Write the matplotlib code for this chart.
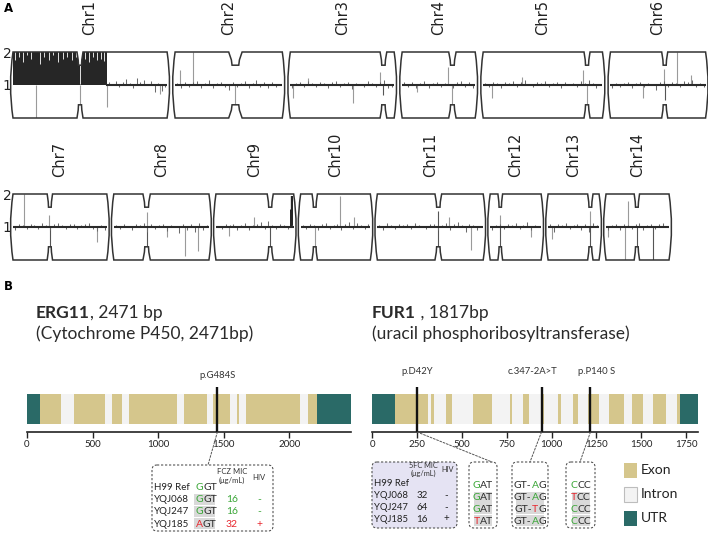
import numpy as np
import matplotlib
matplotlib.use('Agg')
import matplotlib.pyplot as plt
from matplotlib.path import Path
from matplotlib.patches import PathPatch, Rectangle, FancyBboxPatch, ConnectionPatch
from matplotlib.transforms import offset_copy

# ---------------------------------------------------------------- data (panel A)
chrom_names = ['Chr%d' % i for i in range(1, 15)]
chrom_len_mb = [2.30, 1.60, 1.55, 1.09, 1.78, 1.42, 1.40, 1.42, 1.16, 1.04, 1.58, 0.76, 0.76, 0.94]
centromere_mb = [1.00, 0.90, 1.39, 0.75, 1.55, 0.81, 0.55, 0.49, 0.81, 0.21, 0.91, 0.15, 0.63, 0.46]
centromere_w_mb = [0.09, 0.20, 0.10, 0.11, 0.09, 0.09, 0.08, 0.11, 0.09, 0.08, 0.10, 0.07, 0.08, 0.08]
chrom_row = [0, 0, 0, 0, 0, 0, 1, 1, 1, 1, 1, 1, 1, 1]

# start of the ~1 copy noise trace (Chr1 left arm is disomic = amplified)
noise_start_mb = [1.40, 0, 0, 0, 0, 0, 0, 0, 0, 0, 0, 0, 0, 0]
noise = [
    [1.08, 1.04, 1.12, 0.94, 1.10, 1.18, 1.05, 0.92, 1.22, 1.08, 1.15, 1.03, 1.12, 0.78, 1.06, 0.82, 0.95],
    [1.06, 0.90, 1.10, 0.95, 1.08, 1.12, 0.92, 1.06, 1.14, 0.90, 1.05, 1.08, 0.93, 0.85, 1.10, 0.95, 1.07,
     1.12, 0.92, 1.06, 1.15, 0.95, 1.08, 0.90, 1.10, 0.93, 1.04],
    [0.92, 1.05, 1.08, 0.93, 1.12, 1.05, 0.95, 1.10, 1.06, 0.90, 1.08, 1.12, 0.94, 1.05, 1.10, 0.88, 1.07,
     1.04, 0.93, 1.12, 1.06, 0.95, 1.10, 1.15, 0.90, 0.93],
    [1.08, 0.95, 1.10, 0.92, 1.05, 1.12, 0.90, 1.06, 1.10, 0.94, 1.07, 1.03, 0.92, 1.08, 1.12, 0.95, 1.10, 0.90],
    [1.05, 0.93, 1.08, 1.06, 0.90, 1.10, 1.05, 1.12, 0.95, 1.08, 1.15, 1.04, 0.93, 1.10, 1.06, 1.12, 0.95,
     1.05, 1.08, 0.92, 1.10, 1.04, 1.07, 0.95, 1.12, 1.06, 1.15, 1.05, 0.92, 1.04],
    [0.92, 1.05, 0.95, 1.06, 1.08, 0.90, 1.05, 1.10, 0.93, 1.06, 1.04, 0.85, 1.08, 1.12, 0.95, 1.10, 1.06,
     0.93, 1.12, 1.08, 1.15, 0.95, 1.05, 0.94],
    [0.92, 1.10, 1.05, 0.94, 1.08, 1.06, 0.93, 1.12, 1.05, 0.90, 1.10, 1.12, 1.06, 0.95, 1.10, 1.08, 0.93,
     1.05, 1.10, 1.12, 0.95, 0.88, 1.06, 0.92],
    [1.06, 0.94, 1.08, 1.04, 0.92, 1.10, 1.06, 1.12, 0.85, 1.08, 0.93, 1.05, 1.10, 0.88, 1.06, 1.04, 0.82,
     1.10, 0.90, 1.08, 0.85, 1.12, 0.92, 1.06],
    [1.04, 0.93, 1.08, 1.05, 1.10, 0.92, 1.06, 1.12, 0.90, 1.05, 1.08, 1.14, 0.93, 1.18, 1.06, 0.95, 1.10,
     1.05, 0.94, 1.06],
    [1.06, 0.93, 1.10, 1.05, 0.92, 1.08, 1.12, 0.94, 1.06, 1.10, 0.90, 1.08, 1.15, 0.93, 1.12, 1.06, 0.95, 1.08],
    [1.05, 0.90, 1.12, 1.06, 0.94, 1.10, 1.05, 1.08, 0.93, 1.12, 1.06, 1.04, 0.95, 1.10, 1.08, 0.92, 1.05,
     1.12, 0.90, 1.10, 1.15, 1.06, 0.85, 1.08, 1.05, 0.92, 1.04],
    [0.90, 1.05, 1.08, 0.95, 1.10, 1.06, 1.12, 0.93, 1.05, 1.14, 0.92, 1.06, 1.04],
    [1.10, 0.85, 1.08, 1.05, 1.12, 0.93, 1.06, 1.10, 0.92, 1.08, 0.85, 1.12, 1.05],
    [0.90, 1.05, 1.08, 0.92, 1.10, 1.06, 0.94, 1.08, 1.12, 0.90, 1.06, 1.10, 0.93, 1.08, 1.12, 1.04],
]
# large single-bin spikes: (position Mb, copy value, shade)
spikes = [
    [(0.34, 0.0, 'l'), (1.00, 0.0, 'l'), (1.40, 0.33, 'l'), (2.20, 0.72, 'l')],
    [(0.07, 1.45, 'l'), (0.27, 2.0, 'l'), (0.90, 0.0, 'l')],
    [(0.04, 0.60, 'l'), (0.27, 1.20, 'l'), (0.94, 0.45, 'l'), (1.34, 1.40, 'l'), (1.39, 0.70, 'd')],
    [(0.22, 0.78, 'l'), (0.69, 1.55, 'l'), (0.75, 0.0, 'l')],
    [(0.13, 0.60, 'l'), (0.58, 1.25, 'l'), (1.49, 1.45, 'l'), (1.55, 0.0, 'l')],
    [(0.49, 0.60, 'l'), (0.80, 1.50, 'l'), (0.81, 0.55, 'd'), (0.99, 2.0, 'l'), (1.20, 1.30, 'l')],
    [(0.17, 2.0, 'l'), (0.53, 1.35, 'l'), (0.55, 0.0, 'd'), (1.26, 0.55, 'l')],
    [(0.49, 0.30, 'd'), (0.50, 1.45, 'l'), (0.80, 0.70, 'l'), (1.06, 0.12, 'l'), (1.25, 0.28, 'l')],
    [(0.20, 0.72, 'l'), (0.57, 1.30, 'l'), (0.81, 0.0, 'd')],
    [(0.21, 0.0, 'l'), (0.58, 1.95, 'l'), (0.80, 1.30, 'l')],
    [(0.90, 1.50, 'd'), (0.91, 0.35, 'd'), (1.07, 1.30, 'l'), (1.40, 0.30, 'l')],
    [(0.15, 0.40, 'd'), (0.15, 1.35, 'l'), (0.61, 0.70, 'l')],
    [(0.06, 0.65, 'l'), (0.62, 1.50, 'l'), (0.63, 0.10, 'd')],
    [(0.03, 0.70, 'l'), (0.28, 0.0, 'l'), (0.33, 1.80, 'l'), (0.46, 0.0, 'd'), (0.70, 0.0, 'd')],
]
# amplified segments: chromosome index -> (start Mb, end Mb, copy value)
amplified = {0: (0.0, 1.40, 2.0), 8: (1.10, 1.155, 1.95)}
# white dips inside the amplified segments: (position Mb, value reached)
amp_dips = {0: [(0.03, 1.75), (0.09, 1.85), (0.15, 1.70), (0.21, 1.90), (0.27, 1.80), (0.40, 1.65),
                (0.46, 1.85), (0.53, 1.75), (0.60, 1.90), (0.67, 1.70), (0.74, 1.80), (0.81, 1.85),
                (0.88, 1.75), (0.94, 1.85), (1.00, 1.02), (1.07, 1.80), (1.13, 1.70), (1.19, 1.85),
                (1.25, 1.75), (1.31, 1.80), (1.36, 1.72)],
            8: [(1.10, 1.55)]}

# ---------------------------------------------------------------- data (panel B)
erg11_len = 2471
erg11_utr = [(0, 102), (2208, 2471)]
erg11_exons = [(102, 259), (355, 596), (652, 728), (777, 1147), (1195, 1371), (1421, 1548),
               (1599, 1617), (1668, 2081), (2145, 2208)]
erg11_mut_pos = [1452]
erg11_mut_lab = ['p.G484S']
erg11_ticks = [0, 500, 1000, 1500, 2000]

fur1_len = 1817
fur1_utr = [(0, 126), (1715, 1817)]
fur1_exons = [(126, 311), (330, 343), (409, 446), (561, 669), (770, 778), (839, 876), (946, 958),
              (1037, 1052), (1117, 1148), (1206, 1265), (1320, 1404), (1450, 1509), (1565, 1639),
              (1700, 1715)]
fur1_mut_pos = [250, 944, 1217]
fur1_mut_lab = ['p.D42Y', 'c.347-2A>T', 'p.P140 S']
fur1_ticks = [0, 250, 500, 750, 1000, 1250, 1500, 1750]

strains = ['H99 Ref', 'YQJ068', 'YQJ247', 'YQJ185']
erg11_codon = [[('G', 'g'), ('GT', 'k')], [('G', 'g'), ('GT', 'k')], [('G', 'g'), ('GT', 'k')],
               [('A', 'r'), ('GT', 'k')]]
fcz_mic = ['', '16', '16', '32']
erg11_hiv = ['', '-', '-', '+']
erg11_val_color = ['k', 'g', 'g', 'r']
fc_mic = ['', '32', '64', '16']
fur1_hiv = ['', '-', '-', '+']
fur1_codon_d42y = [[('G', 'g'), ('AT', 'k')], [('G', 'g'), ('AT', 'k')], [('G', 'g'), ('AT', 'k')],
                   [('T', 'r'), ('AT', 'k')]]
fur1_codon_splice = [[('GT-', 'k'), ('A', 'g'), ('G', 'k')], [('GT-', 'k'), ('A', 'g'), ('G', 'k')],
                     [('GT-', 'k'), ('T', 'r'), ('G', 'k')], [('GT-', 'k'), ('A', 'g'), ('G', 'k')]]
fur1_codon_p140 = [[('C', 'g'), ('CC', 'k')], [('T', 'r'), ('CC', 'k')], [('C', 'g'), ('CC', 'k')],
                   [('C', 'g'), ('CC', 'k')]]
legend_labels = ['Exon', 'Intron', 'UTR']

# ---------------------------------------------------------------- style
EXON = '#d5c68c'
INTRON = '#f3f3f3'
UTR = '#2a6a67'
CLR = {'g': '#3aa637', 'r': '#e8262d', 'k': '#2b2b2b'}
HILITE = '#d9d9d9'
BFONT = ['Lato', 'DejaVu Sans']

W, H = 708, 533
fig = plt.figure(figsize=(W / 100, H / 100), dpi=100)
renderer = fig.canvas.get_renderer()


def px_axes(x0, y0, x1, y1, **kw):
    return fig.add_axes([x0 / W, 1 - y1 / H, (x1 - x0) / W, (y1 - y0) / H], **kw)


# overlay axes: 1 data unit == 1 pixel, origin top-left
over = px_axes(0, 0, W, H)
over.set_xlim(0, W)
over.set_ylim(H, 0)
over.axis('off')
over.set_zorder(5)
over.patch.set_alpha(0)


def measure(s, fontsize, weight='normal'):
    t = over.text(0, 0, s, fontsize=fontsize, fontweight=weight, family=BFONT)
    w = t.get_window_extent(renderer).width
    t.remove()
    return w


def multiweight(x, y, parts, fontsize, weights):
    """pieces with different weights, placed one after another (baseline aligned)."""
    off = 0.0
    for (s, c), w in zip(parts, weights):
        over.text(x + off, y, s, color=CLR[c], ha='left', va='baseline', fontsize=fontsize,
                  fontweight=w, family=BFONT)
        off += measure(s, fontsize, w)


def codon_text(x, y, parts, fontsize, ha='left'):
    """coloured pieces; each piece placed where it sits inside the whole string."""
    full = ''.join(s for s, _ in parts)
    wfull = measure(full, fontsize)
    start = x - wfull / 2 if ha == 'center' else x
    k = 0
    for s, c in parts:
        k2 = k + len(s)
        px = start + measure(full[:k2], fontsize) - measure(s, fontsize) if k > 0 else start
        over.text(px, y, s, color=CLR[c], ha='left', va='baseline', fontsize=fontsize, family=BFONT)
        k = k2


# ---------------------------------------------------------------- panel A
PX_PER_MB = 67.0
row_top = [52, 194]
row_bot = [118, 260]
row_x0 = [13, 13]
row_gap = [8, 7]


def chrom_path(L, c, w, d=0.40, b=0.037):
    tn = [(c - w / 2, 2), (c - w * 0.30, 2 - d * 0.6), (c - w * 0.25, 2 - d), (c + w * 0.25, 2 - d),
          (c + w * 0.30, 2 - d * 0.6), (c + w / 2, 2)]
    bn = [(x, 2 - y) for (x, y) in tn[::-1]]
    verts = [(0, 2)] + tn + [(L, 2), (L + 2 * b, 1), (L, 0)] + bn + [(0, 0), (-2 * b, 1), (0, 2), (0, 2)]
    codes = ([Path.MOVETO] + [Path.LINETO] * 6 + [Path.LINETO, Path.CURVE3, Path.CURVE3]
             + [Path.LINETO] * 6 + [Path.LINETO, Path.CURVE3, Path.CURVE3, Path.CLOSEPOLY])
    return Path(verts, codes)


cursor = list(row_x0)
first_in_row = [True, True]
for i, name in enumerate(chrom_names):
    r = chrom_row[i]
    L = chrom_len_mb[i]
    x0 = cursor[r]
    x1 = x0 + L * PX_PER_MB
    cursor[r] = x1 + row_gap[r]
    ax = px_axes(x0, row_top[r], x1, row_bot[r])
    ax.set_xlim(0, L)
    ax.set_ylim(0, 2)
    for s in ax.spines.values():
        s.set_visible(False)
    ax.set_xticks([])
    if first_in_row[r]:
        ax.set_yticks([1, 2])
        ax.set_yticklabels(['1', '2'])
        ax.tick_params(axis='y', length=0, pad=1, labelsize=10, colors='#222222')
        first_in_row[r] = False
    else:
        ax.set_yticks([])
    ax.patch.set_alpha(0)

    path = chrom_path(L, centromere_mb[i], centromere_w_mb[i])
    bg = PathPatch(path, facecolor='white', edgecolor='none', clip_on=False, zorder=0)
    ax.add_patch(bg)

    arts = []
    if i in amplified:
        s0, s1, v = amplified[i]
        arts.append(ax.fill_between([s0, s1], 1, v, color='#262626', lw=0, zorder=2))
        dips = amp_dips.get(i, [])
        if dips:
            arts.append(ax.vlines([p for p, _ in dips], [q for _, q in dips], v + 0.05,
                                  color='white', lw=0.6, zorder=2.5))
    for (sx, sv, sh) in spikes[i]:
        arts.append(ax.vlines(sx, 1, sv, color='#9a9a9a' if sh == 'l' else '#555555',
                              lw=0.8, zorder=2))
    vals = np.array(noise[i])
    n0 = noise_start_mb[i]
    xs = n0 + (np.arange(len(vals)) + 0.5) / len(vals) * (L - n0)
    arts.append(ax.vlines(xs, 1, vals, color='#6a6a6a', lw=0.75, zorder=3))
    arts.append(ax.plot([n0, L], [1, 1], color='#2a2a2a', lw=1.5, zorder=4)[0])
    for a in arts:
        a.set_clip_path(bg)
    outline = PathPatch(path, facecolor='none', edgecolor='#333333', lw=1.1, clip_on=False, zorder=6)
    ax.add_patch(outline)
    ax.text(L / 2, 2.0 + 17 / 33.0, name, rotation=90, ha='center', va='bottom', fontsize=10.5,
            color='#222222', clip_on=False)

over.text(4, 8, 'A', fontsize=8.5, fontweight='bold', va='center', ha='left', family=['DejaVu Sans'])
over.text(4, 287, 'B', fontsize=8.5, fontweight='bold', va='center', ha='left', family=['DejaVu Sans'])

# ---------------------------------------------------------------- panel B genes
GENE_TOP, GENE_BOT = 380, 432


def draw_gene(x0, x1, length, utrs, exons, mpos, mlab, label_dx, ticks, label_y):
    ax = px_axes(x0, GENE_TOP, x1, GENE_BOT)
    ax.set_xlim(0, length)
    ax.set_ylim(0, GENE_BOT - GENE_TOP)
    ax.broken_barh([(0, length)], (8, 30), facecolors=INTRON, lw=0)
    ax.broken_barh([(s, e - s) for s, e in exons], (8, 30), facecolors=EXON, lw=0)
    ax.broken_barh([(s, e - s) for s, e in utrs], (8, 30), facecolors=UTR, lw=0)
    ax.vlines(mpos, 0, 45, color='#111111', lw=1.7, zorder=4)
    for p, lab, dx in zip(mpos, mlab, label_dx):
        tr = offset_copy(ax.transData, fig=fig, x=dx, y=0, units='dots')
        ax.text(p, label_y, lab, ha='center', va='center', fontsize=6.8, color='#333333',
                family=BFONT, clip_on=False, transform=tr)
    for s in ['top', 'right', 'left']:
        ax.spines[s].set_visible(False)
    ax.spines['bottom'].set_linewidth(1.2)
    ax.spines['bottom'].set_color('#222222')
    ax.set_xticks(ticks)
    ax.set_yticks([])
    ax.tick_params(axis='x', length=4, width=1.0, labelsize=7, pad=2, colors='#222222')
    for t in ax.get_xticklabels():
        t.set_family(BFONT)
    ax.patch.set_alpha(0)
    return ax


ax_erg = draw_gene(27, 351, erg11_len, erg11_utr, erg11_exons, erg11_mut_pos, erg11_mut_lab, [0],
                   erg11_ticks, 57)
ax_fur = draw_gene(372.3, 698, fur1_len, fur1_utr, fur1_exons, fur1_mut_pos, fur1_mut_lab,
                   [0, -9, 6], fur1_ticks, 60)

# titles
multiweight(36, 318, [('ERG11', 'k'), (', 2471 bp', 'k')], 12.5, ['bold', 'normal'])
multiweight(36, 339, [('(Cytochrome P450, 2471bp)', 'k')], 12.5, ['normal'])
multiweight(372, 318, [('FUR1', 'k'), (' , 1817bp', 'k')], 12.5, ['bold', 'normal'])
multiweight(372, 339, [('(uracil phosphoribosyltransferase)', 'k')], 12.5, ['normal'])


def dashed_box(x, y, w, h, fc='white'):
    over.add_patch(FancyBboxPatch((x, y), w, h, boxstyle='round,pad=0,rounding_size=5', fc=fc,
                                  ec='#555555', lw=0.8, ls=(0, (2.0, 1.6)), zorder=1))


def connector(ax, pos, bx, by):
    cp = ConnectionPatch(xyA=(pos, 0), coordsA=ax.transData, xyB=(bx, by), coordsB=over.transData,
                         color='#555555', lw=0.7, ls=(0, (2.0, 1.6)), zorder=2)
    over.add_artist(cp)


# ERG11 table
dashed_box(152, 465, 121, 66)
connector(ax_erg, erg11_mut_pos[0], 208, 465)
over.text(232, 472, 'FCZ MIC', fontsize=5.5, ha='center', va='center', family=BFONT, color='#333')
over.text(232, 480, '(μg/mL)', fontsize=5.5, ha='center', va='center', family=BFONT, color='#333')
over.text(259, 477, 'HIV', fontsize=5.5, ha='center', va='center', family=BFONT, color='#333')
erg_rows = [490.5, 502.5, 514.5, 527]
for j, yb in enumerate(erg_rows):
    over.text(154, yb, strains[j], fontsize=7, ha='left', va='baseline', family=BFONT, color='#222')
    if j > 0:
        over.add_patch(Rectangle((194, yb - 9), 21, 11, fc=HILITE, ec='none', zorder=1.5))
    codon_text(195.5, yb, erg11_codon[j], 7.5)
    over.text(232, yb, fcz_mic[j], fontsize=7.5, ha='center', va='baseline', family=BFONT,
              color=CLR[erg11_val_color[j]])
    over.text(259, yb, erg11_hiv[j], fontsize=7.5, ha='center', va='baseline', family=BFONT,
              color=CLR[erg11_val_color[j]])

# FUR1 tables
dashed_box(372, 462, 85, 66, fc='#e5e3f3')
over.text(423, 465.5, '5FC MIC', fontsize=5.3, ha='center', va='center', family=BFONT, color='#333')
over.text(423, 473, '(μg/mL)', fontsize=5.3, ha='center', va='center', family=BFONT, color='#333')
over.text(448, 470, 'HIV', fontsize=5.3, ha='center', va='center', family=BFONT, color='#333')
fur_rows = [485.5, 498.5, 510, 521.5]
for j, yb in enumerate(fur_rows):
    over.text(373.5, yb, strains[j], fontsize=6.8, ha='left', va='baseline', family=BFONT, color='#222')
    over.text(422, yb, fc_mic[j], fontsize=7, ha='center', va='baseline', family=BFONT, color='#222')
    over.text(446, yb, fur1_hiv[j], fontsize=7, ha='center', va='baseline', family=BFONT, color='#222')

codon_boxes = [(469, 28, 18, fur1_codon_d42y, 492), (512, 36, 28, fur1_codon_splice, 530),
               (566, 29, 18, fur1_codon_p140, 580)]
codon_rows = [488.5, 500.5, 511.5, 523.5]
for k, (bx, bw, hw, codons, cx_top) in enumerate(codon_boxes):
    dashed_box(bx, 462, bw, 66)
    connector(ax_fur, fur1_mut_pos[k], cx_top, 462)
    cx = bx + bw / 2
    for j, yb in enumerate(codon_rows):
        if j > 0:
            over.add_patch(Rectangle((cx - hw / 2, yb - 9), hw, 11, fc=HILITE, ec='none', zorder=1.5))
        codon_text(cx, yb, codons[j], 7.5, ha='center')

# legend
leg_colors = [EXON, INTRON, UTR]
leg_y = [463, 487, 511]
for lab, col, y in zip(legend_labels, leg_colors, leg_y):
    over.add_patch(Rectangle((624, y), 13, 15, fc=col, ec='#bdbdbd' if col == INTRON else 'none', lw=0.8))
    over.text(641, y + 7.5, lab, fontsize=10, ha='left', va='center', family=BFONT, color='#222')

fig.savefig('out.png', dpi=100)
